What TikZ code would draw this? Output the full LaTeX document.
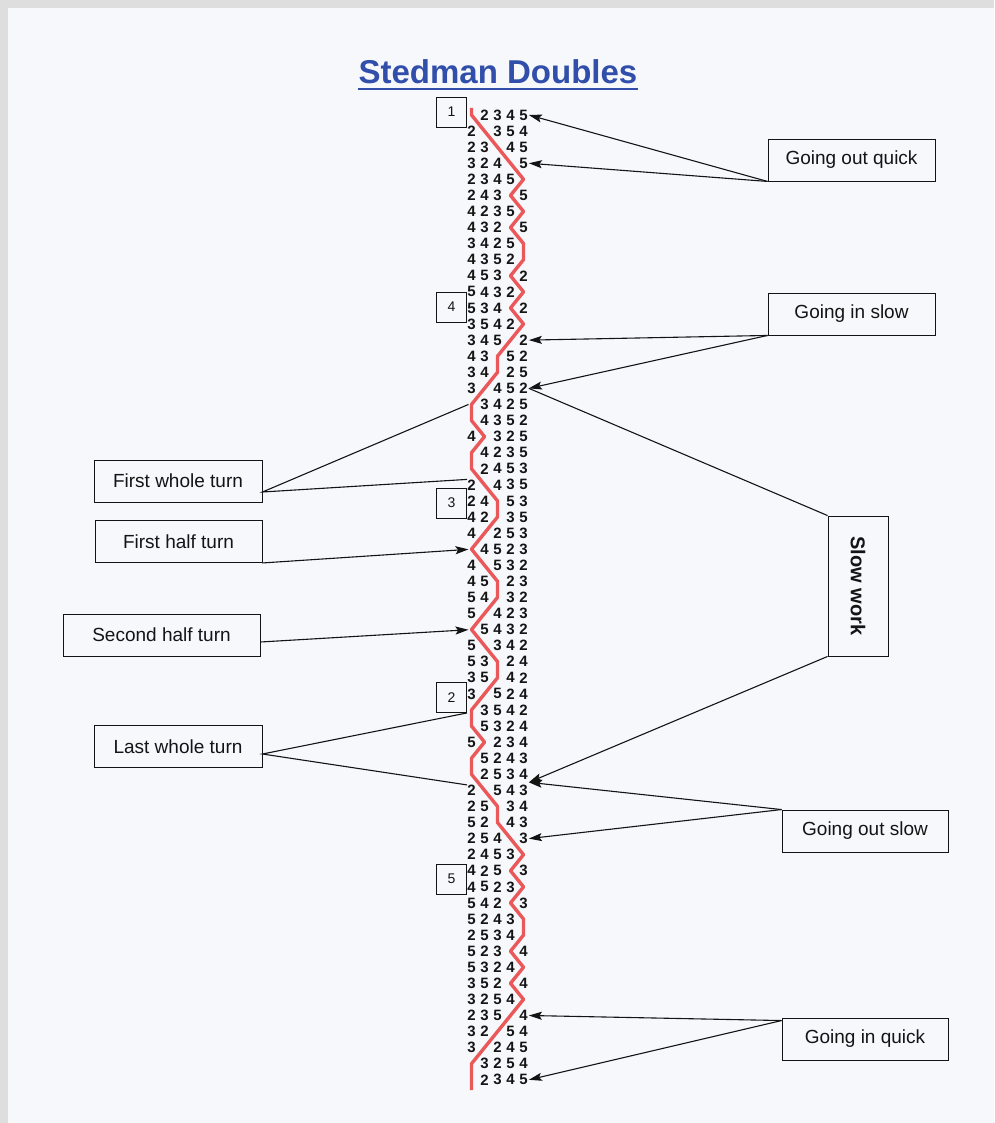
\documentclass[tikz,border=0pt]{standalone}
\usepackage{fontspec}
\setmainfont{Liberation Sans}
\usetikzlibrary{positioning}
\usetikzlibrary{calc}
\usetikzlibrary{arrows.meta}

\definecolor{pagecol}{RGB}{246,248,252}
\definecolor{framecol}{RGB}{222,222,222}
\definecolor{titleblue}{RGB}{48,78,170}
\definecolor{ropered}{RGB}{234,88,90}
\definecolor{inkgray}{RGB}{20,20,20}

\begin{document}
\begin{tikzpicture}[x=1pt, y=-1pt,
    bell/.style={inner sep=0pt, text=inkgray, font=\fontsize{15}{15}\selectfont\bfseries},
    numbox/.style={draw=inkgray, line width=0.9pt, minimum width=30pt, minimum height=30pt, inner sep=0pt, text=inkgray, font=\fontsize{14}{14}\selectfont},
    labelbox/.style={draw=inkgray, line width=0.9pt, minimum height=42pt, inner sep=0pt, text=inkgray, font=\fontsize{19}{20}\selectfont},
    pointer/.style={draw=inkgray, line width=1.1pt, -{Stealth[length=13pt,width=8pt,inset=2.5pt]}},
    lead/.style={draw=inkgray, line width=1.1pt},
    pathline/.style={draw=ropered, line width=3.4pt, line join=round}]

  \fill[framecol] (0,0) rectangle (994,1123);
  \fill[pagecol] (8,8) rectangle (994,1123);
  \useasboundingbox (0,0) rectangle (994,1123);

  \node[anchor=base, inner sep=0pt, text=titleblue, font=\fontsize{33}{33}\selectfont\bfseries] (title) at (498,84) {Stedman Doubles};
  \draw[titleblue, line width=2.8pt] ([yshift=-5pt]title.base west) -- ([yshift=-5pt]title.base east);

  \foreach \row [count=\r from 0] in {
      {1,2,3,4,5},{2,1,3,5,4},{2,3,1,4,5},{3,2,4,1,5},{2,3,4,5,1},{2,4,3,1,5},
      {4,2,3,5,1},{4,3,2,1,5},{3,4,2,5,1},{4,3,5,2,1},{4,5,3,1,2},{5,4,3,2,1},
      {5,3,4,1,2},{3,5,4,2,1},{3,4,5,1,2},{4,3,1,5,2},{3,4,1,2,5},{3,1,4,5,2},
      {1,3,4,2,5},{1,4,3,5,2},{4,1,3,2,5},{1,4,2,3,5},{1,2,4,5,3},{2,1,4,3,5},
      {2,4,1,5,3},{4,2,1,3,5},{4,1,2,5,3},{1,4,5,2,3},{4,1,5,3,2},{4,5,1,2,3},
      {5,4,1,3,2},{5,1,4,2,3},{1,5,4,3,2},{5,1,3,4,2},{5,3,1,2,4},{3,5,1,4,2},
      {3,1,5,2,4},{1,3,5,4,2},{1,5,3,2,4},{5,1,2,3,4},{1,5,2,4,3},{1,2,5,3,4},
      {2,1,5,4,3},{2,5,1,3,4},{5,2,1,4,3},{2,5,4,1,3},{2,4,5,3,1},{4,2,5,1,3},
      {4,5,2,3,1},{5,4,2,1,3},{5,2,4,3,1},{2,5,3,4,1},{5,2,3,1,4},{5,3,2,4,1},
      {3,5,2,1,4},{3,2,5,4,1},{2,3,5,1,4},{3,2,1,5,4},{3,1,2,4,5},{1,3,2,5,4},
      {1,2,3,4,5}}
    \foreach \b [count=\p] in \row {
      \ifnum\b=1
        \coordinate (p\r) at ({471.5+13*(\p-1)},{115+16.08*\r});
      \else
        \node[bell] (d\r-\p) at ({471.5+13*(\p-1)},{115+16.08*\r}) {\b};
      \fi
    };

  \coordinate (pathstart) at (471.5,108);
  \coordinate (pathend) at (471.5,1090);
  \draw[pathline] (pathstart) \foreach \r in {0,...,60} { -- (p\r) } -- (pathend);

  \node[numbox] (b1) at (451.5,112) {1};
  \node[numbox] (b4) at (451.5,307) {4};
  \node[numbox] (b3) at (451.5,503) {3};
  \node[numbox] (b2) at (451.5,697.5) {2};
  \node[numbox] (b5) at (451.5,879) {5};

  \node[labelbox, minimum width=167pt] (goq) at (851.5,160) {Going out quick};
  \node[labelbox, minimum width=167pt] (gis) at (851.5,314) {Going in slow};
  \node[labelbox, minimum width=168pt] (fwt) at (178,481) {First whole turn};
  \node[labelbox, minimum width=167pt] (fht) at (178.5,541.5) {First half turn};
  \node[labelbox, minimum width=197pt] (sht) at (161.5,635) {Second half turn};
  \node[labelbox, minimum width=168pt] (lwt) at (178,746.5) {Last whole turn};
  \node[labelbox, minimum width=60pt, minimum height=140pt, font=\fontsize{20}{20}\selectfont\bfseries] (slow) at (858,586) {\rotatebox{-90}{Slow work}};
  \node[labelbox, minimum width=166pt] (gos) at (865,831) {Going out slow};
  \node[labelbox, minimum width=166pt] (giq) at (865,1039) {Going in quick};

  \coordinate (slowend) at ($(d41-5.east)!0.5!(d42-5.east)+(1,0)$);

  \draw[pointer] (goq.south west) -- ([xshift=1pt]d0-5.east);
  \draw[pointer] (goq.south west) -- ([xshift=1pt]d3-5.east);
  \draw[pointer] (gis.south west) -- ([xshift=1pt]d14-5.east);
  \draw[pointer] (gis.south west) -- ([xshift=1pt]d17-5.east);
  \draw[lead] ([xshift=-3pt]p18) -- ([yshift=-11pt]fwt.east) -- (d23-1.north west);
  \draw[pointer, shorten >=3pt] (fht.south east) -- (p27);
  \draw[pointer, shorten >=3pt] ([yshift=-7pt]sht.east) -- (p32);
  \draw[lead] (b2.south east) -- ([yshift=-7.5pt]lwt.east) -- (d42-1.north west);
  \draw[lead] (slow.north west) -- ([xshift=1pt]d17-5.east);
  \draw[pointer] (slow.south west) -- (slowend);
  \draw[pointer] (gos.north west) -- (slowend);
  \draw[pointer] (gos.north west) -- ([xshift=1pt]d45-5.east);
  \draw[pointer] ([yshift=-3pt]giq.north west) -- ([xshift=1pt]d56-5.east);
  \draw[pointer] ([yshift=-3pt]giq.north west) -- ([xshift=1pt]d60-5.east);
\end{tikzpicture}
\end{document}
